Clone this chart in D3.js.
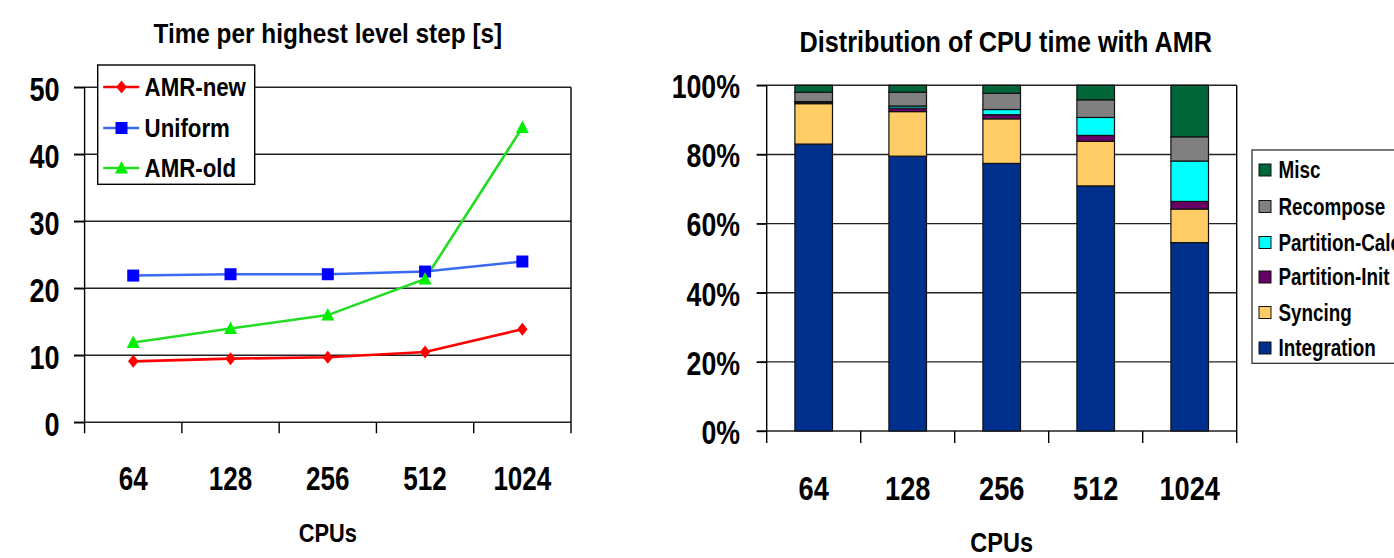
<!DOCTYPE html>
<html>
<head>
<meta charset="utf-8">
<script src="https://cdn.jsdelivr.net/npm/d3@7"></script>
<style>
  html, body { margin: 0; padding: 0; background: #ffffff; }
  svg { display: block; }
  text { font-family: "Liberation Sans", Arial, sans-serif; font-weight: bold; fill: #000; }
</style>
</head>
<body>
<svg id="chart" width="1394" height="558"></svg>
<script>
// ---- data ----
const cpus = ["64", "128", "256", "512", "1024"];

// seconds per highest-level step
const amrNew  = [9.1, 9.5, 9.7, 10.5, 13.9];
const uniform = [21.9, 22.1, 22.1, 22.5, 24.0];
const amrOld  = [11.9, 14.0, 16.0, 21.4, 44.0];
const timeTicks = [0, 10, 20, 30, 40, 50];

// share of CPU time (%)
const integration = [83.0, 79.5, 77.4, 70.9, 54.5];
const syncing     = [11.7, 12.9, 12.9, 12.9, 9.7];
const partInit    = [0.4, 1.0, 1.2, 1.7, 2.2];
const partCalc    = [0.2, 0.6, 1.5, 5.2, 11.7];
const recompose   = [2.7, 4.0, 4.7, 5.1, 7.0];
const misc        = [2.0, 2.0, 2.3, 4.2, 14.9];
const pctTicks = [0, 20, 40, 60, 80, 100];

const componentNames = ["Integration", "Syncing", "Partition-Init", "Partition-Calc", "Recompose", "Misc"];
const componentColors = ["#012f8c", "#ffcc66", "#660066", "#00ffff", "#808080", "#00663a"];

const svg = d3.select("#chart");

// place a text element with horizontal squeeze
function label(g, str, x, y, size, sx, anchor) {
  return g.append("text")
    .attr("transform", `translate(${x},${y}) scale(${sx},1)`)
    .attr("text-anchor", anchor || "middle")
    .style("font-size", size + "px")
    .text(str);
}

// ================= left: line chart =================
const L = { x0: 84.6, x1: 571, yTop: 87.3, yBot: 422.3 };
const xL = d3.scaleBand().domain(cpus).range([L.x0, L.x1]);
const yL = d3.scaleLinear().domain([0, 50]).range([L.yBot, L.yTop]);
const cx = c => xL(c) + xL.bandwidth() / 2;

const left = svg.append("g");

// gridlines
left.append("g").selectAll("line").data(timeTicks).join("line")
  .attr("x1", L.x0 - 10.6).attr("x2", L.x1)
  .attr("y1", d => yL(d)).attr("y2", d => yL(d))
  .attr("stroke", "#222").attr("stroke-width", 1.4);

// y axis
const yAxisL = left.append("g").attr("transform", `translate(${L.x0},0)`)
  .call(d3.axisLeft(yL).tickValues(timeTicks).tickSize(10.6).tickSizeOuter(0));
yAxisL.select(".domain").attr("stroke", "#000").attr("stroke-width", 1.4)
  .attr("d", `M0,${L.yTop}V${L.yBot + 11}`);
yAxisL.selectAll(".tick line").attr("stroke", "#000").attr("stroke-width", 1.4);
yAxisL.selectAll(".tick text")
  .attr("x", null).attr("dy", null).attr("fill", "#000")
  .attr("transform", "translate(-25.1,12.8) scale(0.82,1)")
  .attr("text-anchor", "end")
  .style("font-size", "33px").style("font-family", "'Liberation Sans', Arial, sans-serif").style("font-weight", "bold");

// right border
left.append("line")
  .attr("x1", L.x1).attr("x2", L.x1).attr("y1", L.yTop).attr("y2", L.yBot + 11)
  .attr("stroke", "#000").attr("stroke-width", 1.4);

// x category boundary ticks
left.append("g").selectAll("line").data(cpus.slice(1)).join("line")
  .attr("x1", d => xL(d)).attr("x2", d => xL(d))
  .attr("y1", L.yBot).attr("y2", L.yBot + 11)
  .attr("stroke", "#000").attr("stroke-width", 1.4);

// x labels
cpus.forEach(c => label(left, c, cx(c), 490, 33, 0.79));

label(left, "CPUs", (L.x0 + L.x1) / 2, 541.7, 25, 0.87);
label(left, "Time per highest level step [s]", (L.x0 + L.x1) / 2, 43, 28, 0.87);

// series
const seriesL = [
  { name: "AMR-new", values: amrNew,  line: "#ff0000", fill: "#ff0000", shape: "diamond" },
  { name: "Uniform", values: uniform, line: "#3a6af0", fill: "#0000ff", shape: "square" },
  { name: "AMR-old", values: amrOld,  line: "#22dd22", fill: "#00ee00", shape: "triangle" }
];

function marker(g, shape, x, y, fill) {
  if (shape === "diamond") {
    g.append("path").attr("d", `M${x},${y - 6.5}L${x + 5.2},${y}L${x},${y + 6.5}L${x - 5.2},${y}Z`).attr("fill", fill);
  } else if (shape === "square") {
    g.append("rect").attr("x", x - 6).attr("y", y - 6).attr("width", 12).attr("height", 12).attr("fill", fill);
  } else {
    g.append("path").attr("d", `M${x},${y - 7}L${x + 6.5},${y + 5.5}L${x - 6.5},${y + 5.5}Z`).attr("fill", fill);
  }
}

const line = d3.line().x((d, i) => cx(cpus[i])).y(d => yL(d));
seriesL.slice().reverse().forEach(s => {
  left.append("path").datum(s.values).attr("d", line)
    .attr("fill", "none").attr("stroke", s.line).attr("stroke-width", 2.6);
});
seriesL.forEach(s => {
  s.values.forEach((v, i) => marker(left, s.shape, cx(cpus[i]), yL(v), s.fill));
});

// legend
const legL = left.append("g");
legL.append("rect").attr("x", 97.7).attr("y", 65).attr("width", 157).attr("height", 119.3)
  .attr("fill", "#fff").attr("stroke", "#000").attr("stroke-width", 1.4);
const legYs = [87, 128, 168];
seriesL.forEach((s, i) => {
  const y = legYs[i];
  legL.append("line").attr("x1", 103.2).attr("x2", 139.2).attr("y1", y).attr("y2", y)
    .attr("stroke", s.line).attr("stroke-width", 2.6);
  marker(legL, s.shape, 121.5, y, s.fill);
  label(legL, s.name, 144.6, y + 9, 25, 0.89, "start");
});

// ================= right: stacked bars =================
const R = { x0: 766.7, x1: 1236.7, yTop: 85.3, yBot: 431 };
const xR = d3.scaleBand().domain(cpus).range([R.x0, R.x1]).paddingInner(0.6).paddingOuter(0.3);
const xRb = d3.scaleBand().domain(cpus).range([R.x0, R.x1]);
const yR = d3.scaleLinear().domain([0, 100]).range([R.yBot, R.yTop]);

const right = svg.append("g");

right.append("g").selectAll("line").data(pctTicks).join("line")
  .attr("x1", R.x0 - 10).attr("x2", R.x1)
  .attr("y1", d => yR(d)).attr("y2", d => yR(d))
  .attr("stroke", "#222").attr("stroke-width", 1.4);

const yAxisR = right.append("g").attr("transform", `translate(${R.x0},0)`)
  .call(d3.axisLeft(yR).tickValues(pctTicks).tickSize(10).tickSizeOuter(0).tickFormat(d => d + "%"));
yAxisR.select(".domain").attr("stroke", "#000").attr("stroke-width", 1.4)
  .attr("d", `M0,${R.yTop}V${R.yBot + 12}`);
yAxisR.selectAll(".tick line").attr("stroke", "#000").attr("stroke-width", 1.4);
yAxisR.selectAll(".tick text")
  .attr("x", null).attr("dy", null).attr("fill", "#000")
  .attr("transform", "translate(-26.7,12.4) scale(0.81,1)")
  .attr("text-anchor", "end")
  .style("font-size", "33px").style("font-family", "'Liberation Sans', Arial, sans-serif").style("font-weight", "bold");

right.append("line")
  .attr("x1", R.x1).attr("x2", R.x1).attr("y1", R.yTop).attr("y2", R.yBot + 12)
  .attr("stroke", "#000").attr("stroke-width", 1.4);
right.append("g").selectAll("line").data(cpus.slice(1)).join("line")
  .attr("x1", d => xRb(d)).attr("x2", d => xRb(d))
  .attr("y1", R.yBot).attr("y2", R.yBot + 12)
  .attr("stroke", "#000").attr("stroke-width", 1.4);

// stacked bars
const rows = cpus.map((c, i) => ({
  cpu: c,
  "Integration": integration[i],
  "Syncing": syncing[i],
  "Partition-Init": partInit[i],
  "Partition-Calc": partCalc[i],
  "Recompose": recompose[i],
  "Misc": misc[i]
}));
const stacked = d3.stack().keys(componentNames)(rows);
stacked.forEach((layer, k) => {
  right.append("g").selectAll("rect").data(layer).join("rect")
    .attr("x", d => xR(d.data.cpu))
    .attr("width", xR.bandwidth())
    .attr("y", d => yR(d[1]))
    .attr("height", d => yR(d[0]) - yR(d[1]))
    .attr("fill", componentColors[k])
    .attr("stroke", "#111").attr("stroke-width", 1.2);
});

cpus.forEach(c => label(right, c, xRb(c) + xRb.bandwidth() / 2, 500, 34, 0.8));
label(right, "CPUs", (R.x0 + R.x1) / 2, 551.7, 28, 0.84);
label(right, "Distribution of CPU time with AMR", (R.x0 + R.x1) / 2 + 4, 52.3, 29, 0.87);

// legend (the box runs past the right edge of the page)
const legR = right.append("g");
legR.append("rect").attr("x", 1252).attr("y", 150).attr("width", 200).attr("height", 213.3)
  .attr("fill", "#fff").attr("stroke", "#222").attr("stroke-width", 1.2);
const legRY = [170, 206.5, 242.5, 277, 312.5, 348];
componentNames.slice().reverse().forEach((name, i) => {
  const k = componentNames.length - 1 - i;
  const y = legRY[i];
  legR.append("rect").attr("x", 1259).attr("y", y - 6).attr("width", 12).attr("height", 12)
    .attr("fill", componentColors[k]).attr("stroke", "#111").attr("stroke-width", 1);
  label(legR, name, 1278.5, y + 8, 23, 0.82, "start");
});
</script>
</body>
</html>
